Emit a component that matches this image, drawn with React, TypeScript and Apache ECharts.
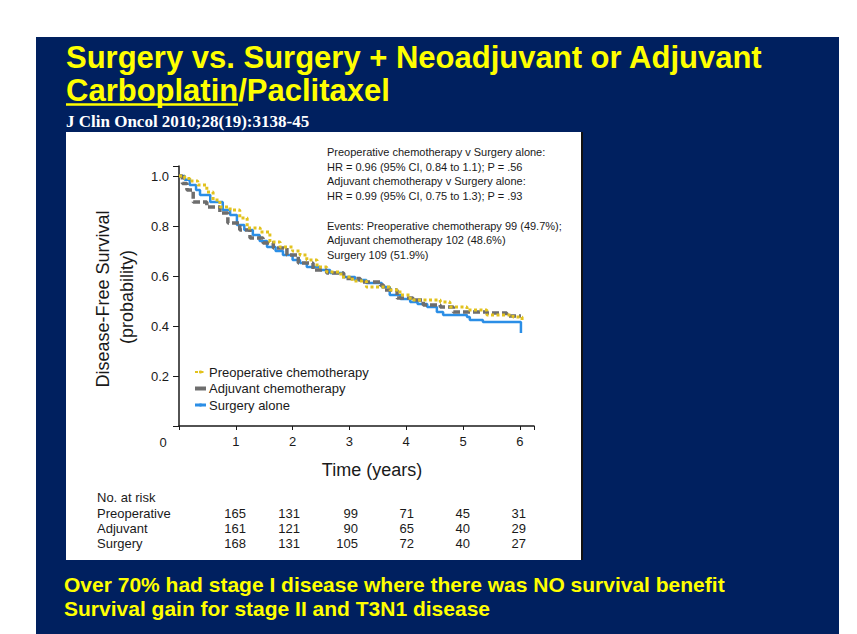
import React, { useEffect, useRef } from "react";
import * as echarts from "echarts";

// ---- data ----
const titleLines = ["Surgery vs. Surgery + Neoadjuvant or Adjuvant", "Carboplatin/Paclitaxel"];
const underlinedWord = "Carboplatin";
const citation = "J Clin Oncol 2010;28(19):3138-45";
const footerLines = [
  "Over 70% had stage I disease where there was NO survival benefit",
  "Survival gain for stage II and T3N1 disease",
];
const annotationLines = [
  "Preoperative chemotherapy v Surgery alone:",
  "HR = 0.96 (95% CI, 0.84 to 1.1); P = .56",
  "Adjuvant chemotherapy v Surgery alone:",
  "HR = 0.99 (95% CI, 0.75 to 1.3); P = .93",
  "",
  "Events: Preoperative chemotherapy 99 (49.7%);",
  "Adjuvant chemotherapy 102 (48.6%)",
  "Surgery 109 (51.9%)",
];
const xTicks = [0, 1, 2, 3, 4, 5, 6];
const yTicks = [0.2, 0.4, 0.6, 0.8, 1.0];
const seriesNames = ["Preoperative chemotherapy", "Adjuvant chemotherapy", "Surgery alone"];

const preopKM: [number, number][] = [
  [0, 1], [0.1, 0.99], [0.19, 0.98], [0.33, 0.964], [0.49, 0.936], [0.6, 0.904], [0.72, 0.876],
  [0.9, 0.864], [1.07, 0.832], [1.2, 0.792], [1.43, 0.776], [1.6, 0.736], [1.78, 0.716], [2.0, 0.7],
  [2.13, 0.684], [2.25, 0.664], [2.43, 0.636], [2.6, 0.616], [2.85, 0.596], [3.05, 0.58], [3.3, 0.556],
  [3.71, 0.544], [3.89, 0.524], [4.07, 0.504], [4.6, 0.496], [4.77, 0.476], [5.07, 0.464], [5.42, 0.444],
  [5.88, 0.436], [6.04, 0.424],
];
const adjuvantKM: [number, number][] = [
  [0, 1], [0.06, 0.97], [0.14, 0.944], [0.25, 0.896], [0.49, 0.876], [0.72, 0.852], [0.86, 0.812],
  [1.07, 0.784], [1.25, 0.752], [1.48, 0.732], [1.66, 0.712], [1.9, 0.684], [2.1, 0.652], [2.36, 0.624],
  [2.6, 0.612], [2.9, 0.59], [3.19, 0.576], [3.54, 0.564], [3.6, 0.544], [3.84, 0.512], [4.12, 0.504],
  [4.3, 0.484], [4.6, 0.476], [4.83, 0.456], [5.42, 0.452], [5.77, 0.44], [6.02, 0.44],
];
const surgeryKM: [number, number][] = [
  [0, 1], [0.1, 0.985], [0.19, 0.964], [0.3, 0.944], [0.37, 0.924], [0.55, 0.896], [0.77, 0.864],
  [0.9, 0.844], [1.02, 0.804], [1.15, 0.784], [1.3, 0.764], [1.42, 0.74], [1.55, 0.716], [1.7, 0.7],
  [1.83, 0.684], [2.0, 0.664], [2.13, 0.652], [2.25, 0.636], [2.48, 0.624], [2.66, 0.612], [2.9, 0.596],
  [3.1, 0.584], [3.3, 0.572], [3.57, 0.556], [3.71, 0.524], [3.9, 0.508], [4.07, 0.496], [4.2, 0.488],
  [4.37, 0.476], [4.54, 0.456], [4.65, 0.444], [5.07, 0.436], [5.12, 0.424], [5.35, 0.416], [6.02, 0.416],
  [6.02, 0.372],
];
const riskHeader = "No. at risk";
const riskRowLabels = ["Preoperative", "Adjuvant", "Surgery"];
const riskPreop = [165, 131, 99, 71, 45, 31];
const riskAdjuvant = [161, 121, 90, 65, 40, 29];
const riskSurgery = [168, 131, 105, 72, 40, 27];

// ---- layout / style ----
const SANS = '"Liberation Sans", Arial, Helvetica, sans-serif';
const SERIF = '"Liberation Serif", "Times New Roman", serif';
const NAVY = "#00205F";
const YELLOW = "#FFFF00";
const INK = "#1a1a1a";
const riskColRight = [246, 300, 358, 414, 470, 526];
const riskRowY = [513, 528, 543];

export default function App() {
  const ref = useRef<HTMLDivElement>(null);
  useEffect(() => {
    if (!ref.current) return;
    const chart = echarts.init(ref.current, undefined, { renderer: "svg" });

    const graphics: any[] = [
      { type: "rect", z: -10, shape: { x: 36, y: 37, width: 803, height: 597 }, style: { fill: NAVY } },
      { type: "rect", z: -9, shape: { x: 66, y: 132, width: 516, height: 428 }, style: { fill: "#ffffff" } },
      { type: "line", z: -8, shape: { x1: 582, y1: 132, x2: 582, y2: 560 }, style: { stroke: "#111", lineWidth: 2 } },
    ];
    titleLines.forEach((t, i) => {
      graphics.push({
        type: "text", z: 50, x: 66, y: 57 + i * 33,
        style: { text: t, fill: YELLOW, font: `bold 31px ${SANS}`, verticalAlign: "middle" },
      });
    });
    graphics.push({
      type: "line", z: 50,
      shape: { x1: 66, y1: 104.5, x2: 66 + 172, y2: 104.5 },
      style: { stroke: YELLOW, lineWidth: 2.5 },
      info: underlinedWord,
    });
    graphics.push({
      type: "text", z: 50, x: 66, y: 121,
      style: { text: citation, fill: "#ffffff", font: `bold 17px ${SERIF}`, verticalAlign: "middle" },
    });
    footerLines.forEach((t, i) => {
      graphics.push({
        type: "text", z: 50, x: 64, y: 584 + i * 24,
        style: { text: t, fill: YELLOW, font: `bold 21px ${SANS}`, verticalAlign: "middle" },
      });
    });
    annotationLines.forEach((t, i) => {
      if (!t) return;
      graphics.push({
        type: "text", z: 50, x: 327, y: 152 + i * 14.7,
        style: { text: t, fill: INK, font: `11px ${SANS}`, verticalAlign: "middle" },
      });
    });
    // y-axis name (two lines)
    graphics.push({
      type: "text", z: 50, x: 103, y: 299, rotation: Math.PI / 2,
      style: { text: "Disease-Free Survival", fill: INK, font: `18px ${SANS}`, align: "center", verticalAlign: "middle" },
    });
    graphics.push({
      type: "text", z: 50, x: 127, y: 297, rotation: Math.PI / 2,
      style: { text: "(probability)", fill: INK, font: `18px ${SANS}`, align: "center", verticalAlign: "middle" },
    });
    graphics.push({
      type: "text", z: 50, x: 372, y: 470,
      style: { text: "Time (years)", fill: INK, font: `18px ${SANS}`, align: "center", verticalAlign: "middle" },
    });
    graphics.push({
      type: "text", z: 50, x: 163, y: 442,
      style: { text: String(xTicks[0]), fill: INK, font: `13px ${SANS}`, align: "center", verticalAlign: "middle" },
    });
    // risk table
    graphics.push({
      type: "text", z: 50, x: 97, y: 497,
      style: { text: riskHeader, fill: INK, font: `13px ${SANS}`, verticalAlign: "middle" },
    });
    const riskRows = [riskPreop, riskAdjuvant, riskSurgery];
    riskRowLabels.forEach((lab, r) => {
      graphics.push({
        type: "text", z: 50, x: 97, y: riskRowY[r],
        style: { text: lab, fill: INK, font: `13px ${SANS}`, verticalAlign: "middle" },
      });
      riskRows[r].forEach((v, c) => {
        graphics.push({
          type: "text", z: 50, x: riskColRight[c], y: riskRowY[r],
          style: { text: String(v), fill: INK, font: `13px ${SANS}`, align: "right", verticalAlign: "middle" },
        });
      });
    });

    chart.setOption({
      animation: false,
      backgroundColor: "#ffffff",
      grid: { left: 179, top: 166, width: 355, height: 260, containLabel: false },
      xAxis: {
        type: "value", min: 0, max: 6.25, interval: 1,
        axisLine: { show: true, lineStyle: { color: INK, width: 1.5 } },
        axisTick: { show: true, length: 4, lineStyle: { color: INK } },
        splitLine: { show: false },
        axisLabel: {
          color: INK, fontSize: 13, fontFamily: SANS, margin: 9,
          formatter: (v: number) => (v > 0 && xTicks.includes(v) ? String(v) : ""),
        },
      },
      yAxis: {
        type: "value", min: 0, max: 1.04, interval: 0.2,
        axisLine: { show: true, lineStyle: { color: INK, width: 1.5 } },
        axisTick: { show: true, length: 6, lineStyle: { color: INK } },
        splitLine: { show: false },
        axisLabel: {
          color: INK, fontSize: 13, fontFamily: SANS, margin: 10,
          formatter: (v: number) => (yTicks.some((t) => Math.abs(t - v) < 1e-6) ? v.toFixed(1) : ""),
        },
      },
      legend: {
        data: [
          { name: seriesNames[0] },
          { name: seriesNames[1], lineStyle: { type: "solid", width: 4 } },
          { name: seriesNames[2], lineStyle: { width: 3 } },
        ],
        orient: "vertical",
        left: 193, top: 365, padding: 0,
        itemWidth: 11, itemHeight: 4, itemGap: 2.5,
        textStyle: { color: INK, fontSize: 13, fontFamily: SANS, lineHeight: 14, padding: [0, 0, 0, -2] },
        selectedMode: false,
      },
      series: [
        {
          name: seriesNames[2], type: "line", step: "end", symbol: "none", data: surgeryKM, z: 2,
          lineStyle: { color: "#2B8EE6", width: 2.5 }, itemStyle: { color: "#2B8EE6" },
        },
        {
          name: seriesNames[1], type: "line", step: "end", symbol: "none", data: adjuvantKM, z: 3,
          lineStyle: { color: "#6E6E6E", width: 3.5, type: [7, 3] }, itemStyle: { color: "#6E6E6E" },
        },
        {
          name: seriesNames[0], type: "line", step: "end", symbol: "none", data: preopKM, z: 4,
          lineStyle: { color: "#E2C21E", width: 3, type: [3, 2.5] }, itemStyle: { color: "#E2C21E" },
        },
      ],
      graphic: { elements: graphics },
    });
    return () => chart.dispose();
  }, []);
  return (
    <div
      ref={ref}
      style={{ position: "absolute", left: 0, top: 0, width: 857, height: 634 }}
    />
  );
}
